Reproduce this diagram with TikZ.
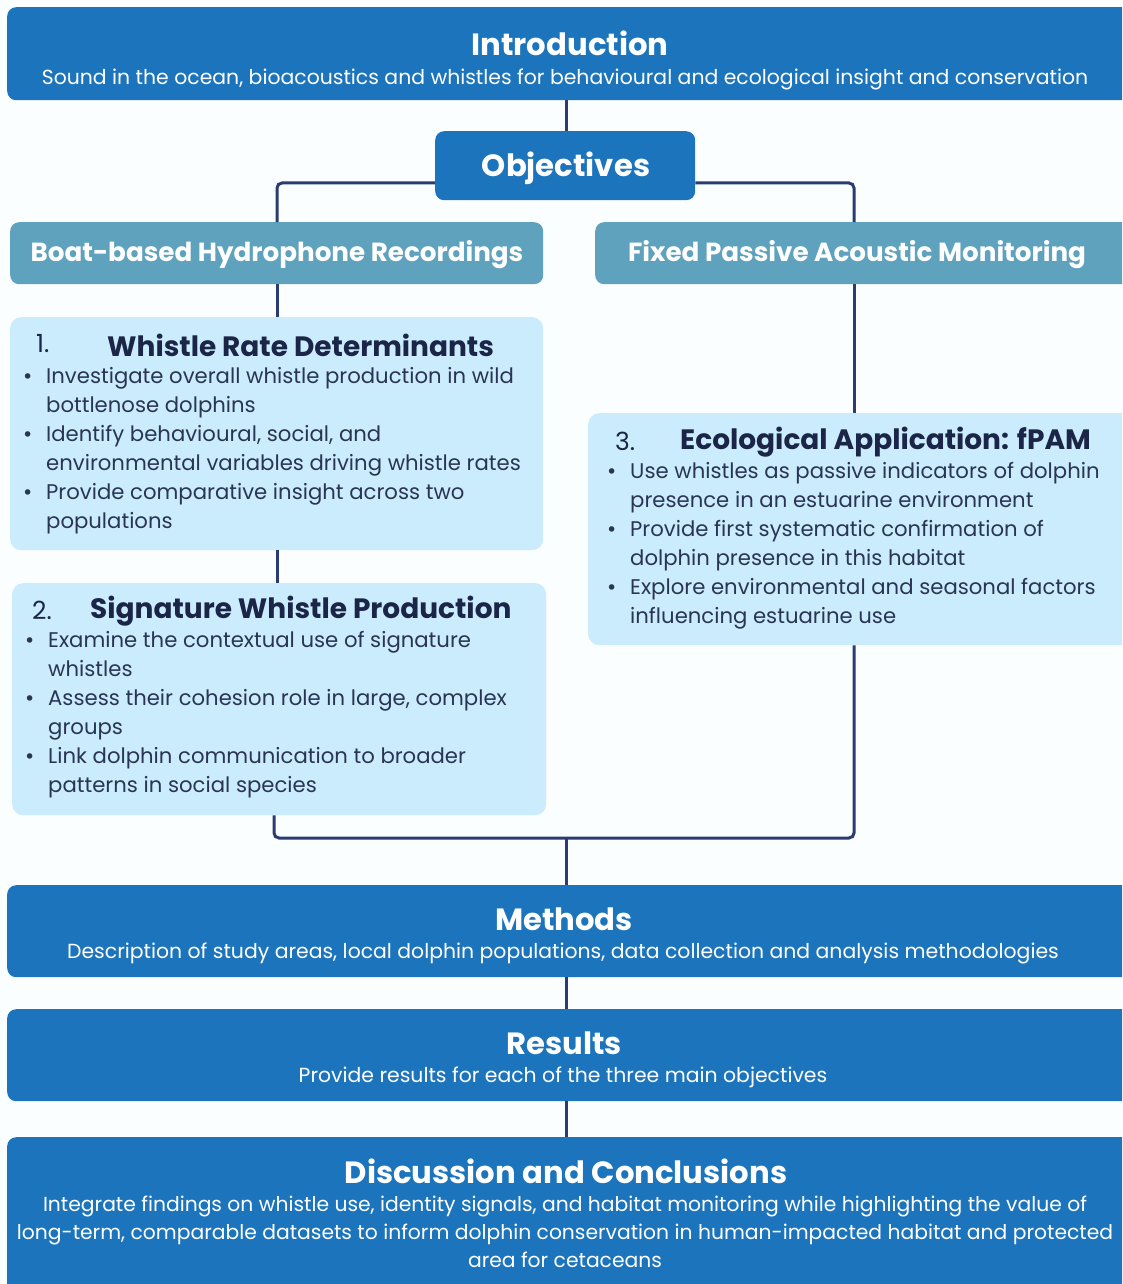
\documentclass[tikz,border=0pt]{standalone}
\usepackage{fontspec}
\setmainfont{Poppins}
\newfontfamily\bulfont{DejaVu Sans}
\definecolor{dblue}{HTML}{1C75BC}
\definecolor{teal}{HTML}{5FA2BD}
\definecolor{lblue}{HTML}{CBECFC}
\definecolor{navy}{HTML}{1B2547}
\definecolor{bodytxt}{HTML}{2A3553}
\definecolor{wire}{HTML}{2A3C72}
\definecolor{bg}{HTML}{FBFEFF}
\newcommand{\bul}{\makebox[23pt][l]{\hspace*{-1pt}{\bulfont\fontsize{19}{19}\selectfont •}}}
\newcommand{\ind}{\hspace*{23pt}}
\begin{document}
\begin{tikzpicture}[x=1pt,y=-1pt,
  bigbox/.style={fill=dblue, rounded corners=9pt, anchor=north west, inner sep=0pt},
  subbox/.style={fill=teal, rounded corners=9pt, anchor=north west, inner sep=0pt},
  lightbox/.style={fill=lblue, rounded corners=11pt, anchor=north west, inner sep=0pt},
  bigtitle/.style={text=white, font=\fontsize{30.7}{33}\selectfont\bfseries, inner sep=0pt},
  subtitle/.style={text=white, font=\fontsize{20.4}{24}\selectfont, inner sep=0pt, align=center},
  subhead/.style={text=white, font=\fontsize{26.2}{28}\selectfont\bfseries, inner sep=0pt},
  ltitle/.style={text=navy, font=\fontsize{28}{30}\selectfont\bfseries, inner sep=0pt, anchor=west},
  lnum/.style={text=navy, font=\fontsize{25}{28}\selectfont, inner sep=0pt, anchor=west},
  lbody/.style={text=bodytxt, font=\fontsize{21.2}{29}\selectfont, inner sep=0pt, align=left, anchor=north west},
  wirel/.style={draw=wire, line width=3pt, rounded corners=5pt}]
\useasboundingbox (0,0) rectangle (1122,1284);
\clip (0,0) rectangle (1122,1284);
\fill[bg] (0,0) rectangle (1122,1284);

% boxes
\node[bigbox, minimum width=1130pt, minimum height=93pt] (intro) at (7,7) {};
\node[bigbox, minimum width=260pt, minimum height=69pt] (obj) at (435,131) {};
\node[subbox, minimum width=533pt, minimum height=62pt] (boat) at (10,222) {};
\node[subbox, minimum width=540pt, minimum height=62pt] (fixed) at (595,222) {};
\node[lightbox, minimum width=533pt, minimum height=233pt] (wr) at (10,317) {};
\node[lightbox, minimum width=534pt, minimum height=232pt] (sw) at (12,583) {};
\node[lightbox, minimum width=545pt, minimum height=232pt] (eco) at (588,413) {};
\node[bigbox, minimum width=1130pt, minimum height=92pt] (meth) at (7,885) {};
\node[bigbox, minimum width=1130pt, minimum height=92pt] (res) at (7,1009) {};
\node[bigbox, minimum width=1130pt, minimum height=160pt] (disc) at (7,1137) {};

% connectors
\coordinate (j) at (566,838);
\draw[wirel] (intro.south -| 566,0) -- (obj.north -| 566,0);
\draw[wirel] (obj.west |- 0,183) -| (boat.north -| 277,0);
\draw[wirel] (obj.east |- 0,183) -| (fixed.north -| 854,0);
\draw[wirel] (boat.south -| 277,0) -- (wr.north -| 277,0);
\draw[wirel] (wr.south -| 277,0) -- (sw.north -| 277,0);
\draw[wirel] (fixed.south -| 854,0) -- (eco.north -| 854,0);
\draw[wirel] (eco.south -| 854,0) |- (j) -| (sw.south -| 274,0);
\draw[wirel] (j) -- (meth.north -| 566,0);
\draw[wirel] (meth.south -| 566,0) -- (res.north -| 566,0);
\draw[wirel] (res.south -| 566,0) -- (disc.north -| 566,0);

% texts
\node[bigtitle] (introT) at (570,43) {Introduction};
\node[subtitle] (introS) at (565,79) {Sound in the ocean, bioacoustics and whistles for behavioural and ecological insight and conservation};
\node[bigtitle] (objT) at (566,168) {Objectives};
\node[subhead] (boatT) at (277,255) {Boat-based Hydrophone Recordings};
\node[subhead] (fixedT) at (857,255) {Fixed Passive Acoustic Monitoring};

\node[lnum] (wrN) at (36,344) {1.};
\node[ltitle] (wrT) at (107,345) {Whistle Rate Determinants};
\node[lbody] (wrB) at (23,367) {\bul Investigate overall whistle production in wild\\
\ind bottlenose dolphins\\
\bul Identify behavioural, social, and\\
\ind environmental variables driving whistle rates\\
\bul Provide comparative insight across two\\
\ind populations};

\node[lnum] (swN) at (32,610) {2.};
\node[ltitle] (swT) at (90,611) {Signature Whistle Production};
\node[lbody] (swB) at (25,631) {\bul Examine the contextual use of signature\\
\ind whistles\\
\bul Assess their cohesion role in large, complex\\
\ind groups\\
\bul Link dolphin communication to broader\\
\ind patterns in social species};

\node[lnum] (ecoN) at (615,441) {3.};
\node[ltitle] (ecoT) at (680,442) {Ecological Application: fPAM};
\node[lbody] (ecoB) at (607,462) {\bul Use whistles as passive indicators of dolphin\\
\ind presence in an estuarine environment\\
\bul Provide first systematic confirmation of\\
\ind dolphin presence in this habitat\\
\bul Explore environmental and seasonal factors\\
\ind influencing estuarine use};

\node[bigtitle] (methT) at (564,919) {Methods};
\node[subtitle] (methS) at (563,953) {Description of study areas, local dolphin populations, data collection and analysis methodologies};
\node[bigtitle] (resT) at (564,1043) {Results};
\node[subtitle] (resS) at (563,1077) {Provide results for each of the three main objectives};
\node[bigtitle] (discT) at (566,1171) {Discussion and Conclusions};
\node[subtitle, font=\fontsize{20.3}{28}\selectfont, anchor=north] (discS) at (565,1196) {Integrate findings on whistle use, identity signals, and habitat monitoring while highlighting the value of\\
long-term, comparable datasets to inform dolphin conservation in human-impacted habitat and protected\\
area for cetaceans};
\end{tikzpicture}
\end{document}
